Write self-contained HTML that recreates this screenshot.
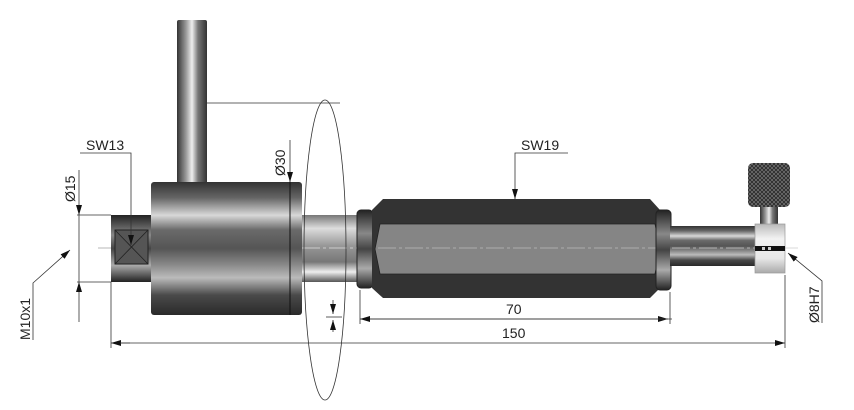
<!DOCTYPE html>
<html><head><meta charset="utf-8"><style>
html,body{margin:0;padding:0;background:#fff;width:854px;height:410px;overflow:hidden}
text{font-family:"Liberation Sans",sans-serif;fill:#222;font-size:14px}
</style></head><body>
<svg width="854" height="410" viewBox="0 0 854 410" xmlns="http://www.w3.org/2000/svg">
<defs>
<linearGradient id="cyl" x1="0" y1="0" x2="0" y2="1">
<stop offset="0" stop-color="#333"/><stop offset="0.12" stop-color="#666"/><stop offset="0.25" stop-color="#d8d8d8"/><stop offset="0.36" stop-color="#6a6a6a"/><stop offset="0.5" stop-color="#555"/><stop offset="0.62" stop-color="#888"/><stop offset="0.72" stop-color="#bbb"/><stop offset="0.85" stop-color="#4a4a4a"/><stop offset="1" stop-color="#2a2a2a"/>
</linearGradient>
<linearGradient id="shaft" x1="0" y1="0" x2="0" y2="1">
<stop offset="0" stop-color="#777"/><stop offset="0.2" stop-color="#ddd"/><stop offset="0.45" stop-color="#999"/><stop offset="0.7" stop-color="#777"/><stop offset="0.85" stop-color="#eee"/><stop offset="1" stop-color="#555"/>
</linearGradient>
<linearGradient id="dark" x1="0" y1="0" x2="0" y2="1">
<stop offset="0" stop-color="#222"/><stop offset="0.3" stop-color="#888"/><stop offset="0.5" stop-color="#444"/><stop offset="0.75" stop-color="#aaa"/><stop offset="1" stop-color="#222"/>
</linearGradient>
<linearGradient id="rod" x1="0" y1="0" x2="1" y2="0">
<stop offset="0" stop-color="#333"/><stop offset="0.3" stop-color="#999"/><stop offset="0.5" stop-color="#eee"/><stop offset="0.7" stop-color="#777"/><stop offset="1" stop-color="#333"/>
</linearGradient>
<linearGradient id="ring" x1="0" y1="0" x2="0" y2="1">
<stop offset="0" stop-color="#bbb"/><stop offset="0.3" stop-color="#f2f2f2"/><stop offset="0.7" stop-color="#e8e8e8"/><stop offset="1" stop-color="#aaa"/>
</linearGradient>
<pattern id="knurl" width="4" height="4" patternUnits="userSpaceOnUse">
<rect width="4" height="4" fill="#2a2a2a"/><path d="M0 0L4 4M4 0L0 4" stroke="#777" stroke-width="0.7"/>
</pattern>
<marker id="ar" viewBox="0 0 10 6" refX="10" refY="3" markerWidth="10" markerHeight="6" orient="auto" markerUnits="userSpaceOnUse"><path d="M0 0L10 3L0 6z" fill="#111"/></marker>
</defs>

<rect x="177" y="20" width="30" height="165" fill="url(#rod)" rx="2"/>
<rect x="111" y="215" width="42" height="67" fill="url(#dark)"/>
<rect x="115" y="230" width="33" height="34" fill="#555" stroke="#222"/>
<path d="M115 230L148 264M148 230L115 264" stroke="#222" stroke-width="0.8"/>
<rect x="151" y="182" width="151" height="133" fill="url(#cyl)" rx="3"/>
<line x1="290" y1="182" x2="290" y2="315" stroke="#111"/>
<rect x="302" y="215" width="58" height="67" fill="url(#shaft)"/>
<line x1="302" y1="248" x2="360" y2="248" stroke="#ddd" stroke-width="0.7" stroke-dasharray="18 3 3 3"/>
<rect x="357" y="210" width="16" height="78" rx="4" fill="url(#dark)" stroke="#222"/>
<path d="M383 199H650L660 210V288L650 298H383L372 288V210Z" fill="#333"/>
<path d="M380 224H655L660 249L655 274H380L375 249Z" fill="#858585" stroke="#222" stroke-width="0.8"/>
<line x1="378" y1="248" x2="656" y2="248" stroke="#bbb" stroke-width="0.7" stroke-dasharray="18 3 3 3"/>
<rect x="656" y="210" width="15" height="80" rx="4" fill="url(#dark)" stroke="#222"/>
<rect x="670" y="226" width="86" height="40" fill="url(#cyl)"/>
<line x1="672" y1="248" x2="800" y2="248" stroke="#ccc" stroke-width="0.7" stroke-dasharray="18 3 3 3"/>
<rect x="760" y="205" width="18" height="22" fill="url(#rod)"/>
<rect x="748" y="163" width="42" height="44" rx="5" fill="url(#knurl)"/>
<rect x="755" y="224" width="30" height="49" fill="url(#ring)" stroke="#999" stroke-width="0.7"/>
<rect x="755" y="246" width="30" height="5" fill="#111"/>
<rect x="762" y="247" width="3" height="3" fill="#ccc"/><rect x="768" y="247" width="3" height="3" fill="#ccc"/>
<line x1="98" y1="248" x2="111" y2="248" stroke="#999" stroke-width="0.7"/>

<ellipse cx="325" cy="250" rx="21" ry="150" fill="none" stroke="#333" stroke-width="0.8"/>
<line x1="207" y1="103" x2="340" y2="103" stroke="#333" stroke-width="0.8"/>

<g stroke="#333" stroke-width="0.8" fill="none">
<line x1="290" y1="140" x2="290" y2="182" marker-end="url(#ar)"/>
<polyline points="80,153 131,153 131,245" marker-end="url(#ar)"/>
<line x1="77" y1="215" x2="111" y2="215"/><line x1="77" y1="282" x2="111" y2="282"/>
<line x1="79" y1="170" x2="79" y2="215" marker-end="url(#ar)"/>
<line x1="79" y1="215" x2="79" y2="282"/>
<line x1="79" y1="322" x2="79" y2="282" marker-end="url(#ar)"/>
<polyline points="33,340 33,283 70,250" marker-end="url(#ar)"/>
<polyline points="568,153 515,153 515,199" marker-end="url(#ar)"/>
<polyline points="822,323 822,281 788,253" marker-end="url(#ar)"/>
<line x1="111" y1="282" x2="111" y2="348"/>
<line x1="360" y1="290" x2="360" y2="324"/>
<line x1="670" y1="292" x2="670" y2="324"/>
<line x1="785" y1="275" x2="785" y2="348"/>
<line x1="370" y1="319" x2="668" y2="319" marker-end="url(#ar)"/>
<line x1="360" y1="319" x2="672" y2="319"/>
<line x1="130" y1="343" x2="111" y2="343" marker-end="url(#ar)"/>
<line x1="120" y1="343" x2="785" y2="343" marker-end="url(#ar)"/>
<line x1="333" y1="300" x2="333" y2="314" marker-end="url(#ar)"/>
<line x1="333" y1="332" x2="333" y2="320" marker-end="url(#ar)"/>
<line x1="326" y1="317" x2="342" y2="317"/>
</g>
<path d="M360 319L370 316L370 322Z" fill="#111"/>

<text x="86" y="150">SW13</text>
<text x="521" y="150">SW19</text>
<text x="506" y="314">70</text>
<text x="502" y="338">150</text>
<text transform="translate(285,176) rotate(-90)">Ø30</text>
<text transform="translate(75,202) rotate(-90)">Ø15</text>
<text transform="translate(30,340) rotate(-90)">M10x1</text>
<text transform="translate(819,323) rotate(-90)">Ø8H7</text>
</svg>
</body></html>
